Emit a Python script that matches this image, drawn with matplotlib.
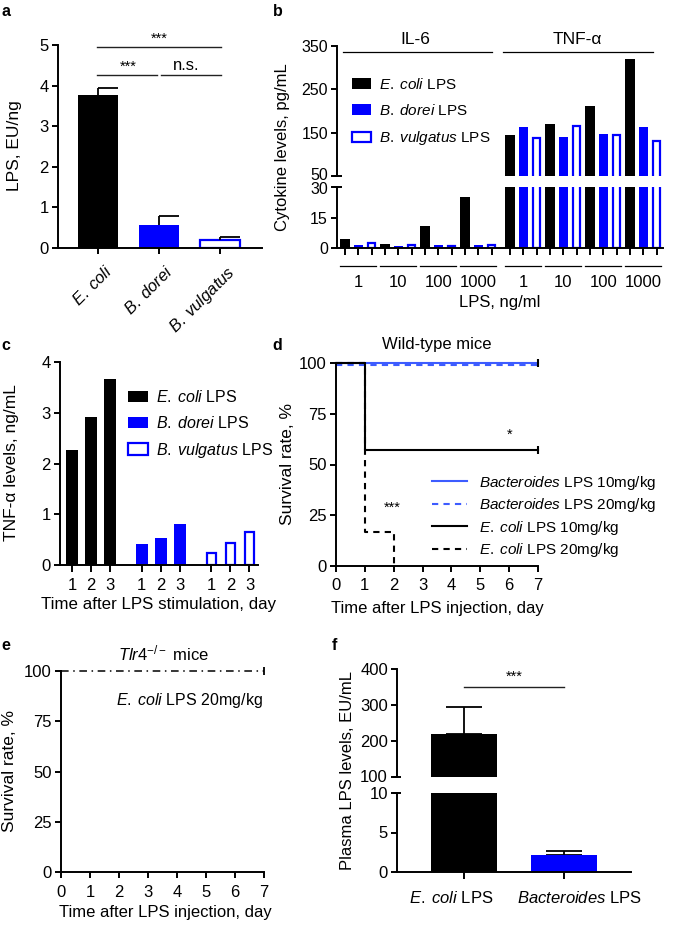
import numpy as np
import matplotlib
matplotlib.use("Agg")
import matplotlib.pyplot as plt
import matplotlib.transforms as mtransforms
from matplotlib.patches import Patch

plt.rcParams['font.family'] = ['Liberation Sans', 'DejaVu Sans']
plt.rcParams['mathtext.fontset'] = 'custom'
plt.rcParams['mathtext.rm'] = 'Liberation Sans'
plt.rcParams['mathtext.it'] = 'Liberation Sans:italic'
plt.rcParams['mathtext.bf'] = 'Liberation Sans:bold'

# ---------------- data ----------------
# panel a
a_labels = [r"$\it{E.\;coli}$", r"$\it{B.\;dorei}$", r"$\it{B.\;vulgatus}$"]
a_values = [3.76, 0.57, 0.20]
a_errors = [0.19, 0.23, 0.07]

# panel b
b_doses = ["1", "10", "100", "1000"]
il6_ecoli = [4.4, 2.1, 10.7, 24.9]
il6_dorei = [1.6, 0.8, 1.3, 1.3]
il6_vulg = [2.4, 1.6, 1.1, 1.3]
tnf_ecoli = [144, 170, 211, 319]
tnf_dorei = [162, 140, 148, 162]
tnf_vulg = [137, 165, 144, 131]

# panel c
c_days = ["1", "2", "3"]
c_ecoli = [2.27, 2.92, 3.67]
c_dorei = [0.41, 0.53, 0.81]
c_vulg = [0.23, 0.43, 0.66]

# panel d (Kaplan-Meier)
d_bact10_t = [0, 7]; d_bact10_s = [100, 100]
d_bact20_t = [0, 7]; d_bact20_s = [100, 100]
d_eco10_t = [0, 1, 7]; d_eco10_s = [100, 57.1, 57.1]
d_eco20_t = [0, 1, 2]; d_eco20_s = [100, 16.7, 0]

# panel e
e_t = [0, 7]; e_s = [100, 100]

# panel f
f_labels = [r"$\it{E.\;coli}$ LPS", r"$\it{Bacteroides}$ LPS"]
f_values = [220, 2.1]
f_errors = [74, 0.6]

BLACK = '#000000'
BLUE = '#0000ff'
LBLUE = '#3d5cff'

W, H = 685, 927
fig = plt.figure(figsize=(W / 100, H / 100), dpi=100)


def rect(l, t, r, b):
    return [l / W, 1 - b / H, (r - l) / W, (b - t) / H]


def ftext(x, y, s, **kw):
    kw.setdefault('ha', 'center')
    kw.setdefault('va', 'center')
    fig.text(x / W, 1 - y / H, s, **kw)


LW = 1.4


def style(ax, tick_fs=12):
    for s in ['top', 'right']:
        ax.spines[s].set_visible(False)
    for s in ['left', 'bottom']:
        ax.spines[s].set_linewidth(LW)
    ax.tick_params(direction='out', length=4.5, width=LW, labelsize=tick_fs, pad=2)


def brk(ax, y):
    ax.plot([-0.015, 0.015], [y, y], transform=ax.transAxes, color='k',
            lw=LW, clip_on=False, solid_capstyle='butt')


def shift_label(lbl, dx_px, dy_px):
    lbl.set_transform(lbl.get_transform() +
                      mtransforms.ScaledTranslation(dx_px / 100, dy_px / 100, fig.dpi_scale_trans))


LEG_LABELS = [r"$\it{E.\;coli}$ LPS", r"$\it{B.\;dorei}$ LPS",
              r"$\it{B.\;vulgatus}$ LPS"]

# ---------------- panel a ----------------
ax = fig.add_axes(rect(58, 45, 262, 248))
style(ax, 12)
xa = np.arange(3)
ax.bar(xa, a_values, width=0.66, color=[BLACK, BLUE, 'white'],
       edgecolor=[BLACK, BLUE, BLUE], linewidth=[0, 0, 1.6], zorder=2)
tops = np.array(a_values) + np.array(a_errors)
ax.vlines(xa, a_values, tops, color='k', lw=1.3)
ax.hlines(tops, xa, xa + 0.33, color='k', lw=1.3)
ax.set_xlim(-0.656, 2.69)
ax.set_ylim(0, 5)
ax.set_yticks([0, 1, 2, 3, 4, 5])
ax.set_xticks(xa)
ax.set_xticklabels(a_labels, rotation=45, ha='right', va='top',
                   rotation_mode='anchor', fontsize=12)
ax.tick_params(axis='x', pad=6)
fig.canvas.draw()
for lbl in ax.get_xticklabels():
    shift_label(lbl, 6, 0)
ax.plot([-0.02, 2.02], [4.95, 4.95], color='#222222', lw=1, clip_on=False)
ax.plot([-0.02, 0.97], [4.26, 4.26], color='#222222', lw=1, clip_on=False)
ax.plot([1.03, 2.02], [4.26, 4.26], color='#222222', lw=1, clip_on=False)
ax.text(1.0, 4.97, '***', ha='center', va='bottom', fontsize=10.5, clip_on=False)
ax.text(0.5, 4.28, '***', ha='center', va='bottom', fontsize=10.5)
ax.text(1.45, 4.32, 'n.s.', ha='center', va='bottom', fontsize=12)
ftext(15, 146, 'LPS, EU/ng', rotation=90, fontsize=12.5)
ftext(6, 12, 'a', fontsize=11.5, fontweight='bold')

# ---------------- panel b ----------------
axb1 = fig.add_axes(rect(337, 46, 663, 176))
axb2 = fig.add_axes(rect(337, 187, 663, 248))
idx = np.arange(24)
xb = idx + np.where(idx >= 12, 0.375, 0.0)
ecoli_b = il6_ecoli + tnf_ecoli
dorei_b = il6_dorei + tnf_dorei
vulg_b = il6_vulg + tnf_vulg
x_e = xb[0::3]; x_d = xb[1::3]; x_v = xb[2::3]
for a_ in (axb1, axb2):
    style(a_, 11.5)
    a_.bar(x_e, ecoli_b, width=0.68, color=BLACK, lw=0)
    a_.bar(x_d, dorei_b, width=0.68, color=BLUE, lw=0)
    a_.bar(x_v, vulg_b, width=0.52, color='white', edgecolor=BLUE, lw=1.6)
    a_.set_xlim(-0.6, 23.85)
axb1.set_ylim(50, 350)
axb1.set_yticks([50, 150, 250, 350])
axb1.spines['bottom'].set_visible(False)
axb1.tick_params(axis='x', bottom=False, labelbottom=False)
axb2.set_ylim(0, 30)
axb2.set_yticks([0, 15, 30])
axb2.spines['top'].set_visible(False)
axb2.set_xticks(xb)
axb2.tick_params(axis='x', labelbottom=False, length=5)
brk(axb1, 0)
brk(axb2, 1)
fig.canvas.draw()
shift_label(axb1.get_yticklabels()[0], 0, 2)
shift_label(axb2.get_yticklabels()[-1], 0, -1)
# group underlines and dose labels
for g in range(8):
    base = xb[g * 3]
    axb2.plot([base - 0.35, base + 2.35], [-0.295, -0.295],
              transform=axb2.get_xaxis_transform(), color='k', lw=0.9, clip_on=False)
    axb2.text(base + 1, -0.57, b_doses[g % 4], transform=axb2.get_xaxis_transform(),
              ha='center', va='center', fontsize=12)
# header lines
axb1.plot([-0.15, 11.0], [0.954, 0.954], transform=axb1.get_xaxis_transform(),
          color='k', lw=0.9, clip_on=False)
axb1.plot([11.85, 23.1], [0.954, 0.954], transform=axb1.get_xaxis_transform(),
          color='k', lw=0.9, clip_on=False)
axb1.text(5.25, 1.05, 'IL-6', transform=axb1.get_xaxis_transform(),
          ha='center', va='center', fontsize=12.5)
axb1.text(17.4, 1.05, 'TNF-α', transform=axb1.get_xaxis_transform(),
          ha='center', va='center', fontsize=12.5)
handles = [Patch(facecolor=BLACK, edgecolor=BLACK, lw=0),
           Patch(facecolor=BLUE, edgecolor=BLUE, lw=0),
           Patch(facecolor='white', edgecolor=BLUE, lw=1.6)]
axb1.legend(handles, LEG_LABELS, loc='upper left', bbox_to_anchor=(0.046, 0.765),
            frameon=False, fontsize=11, handlelength=1.25, handleheight=0.7,
            handletextpad=0.5, labelspacing=0.75, borderaxespad=0, borderpad=0)
ftext(283, 147, 'Cytokine levels, pg/mL', rotation=90, fontsize=12)
ftext(500, 302, 'LPS, ng/ml', fontsize=12)
ftext(278, 12, 'b', fontsize=11.5, fontweight='bold')

# ---------------- panel c ----------------
ax = fig.add_axes(rect(60, 362, 258, 565))
style(ax, 12)
xc = np.array([0, 1, 2, 3.67, 4.67, 5.67, 7.34, 8.34, 9.34])
ax.bar(xc[0:3], c_ecoli, width=0.65, color=BLACK, lw=0)
ax.bar(xc[3:6], c_dorei, width=0.65, color=BLUE, lw=0)
ax.bar(xc[6:9], c_vulg, width=0.52, color='white', edgecolor=BLUE, lw=1.6)
ax.set_xlim(-0.63, 9.79)
ax.set_ylim(0, 4)
ax.set_yticks([0, 1, 2, 3, 4])
ax.set_xticks(xc)
ax.set_xticklabels(c_days * 3, fontsize=12)
ax.tick_params(axis='x', length=5, pad=4)
ax.legend(handles, LEG_LABELS, loc='upper left', bbox_to_anchor=(0.343, 0.865),
          frameon=False, fontsize=11.5, handlelength=1.25, handleheight=0.7,
          handletextpad=0.5, labelspacing=0.6, borderaxespad=0, borderpad=0)
ftext(12, 463, 'TNF-α levels, ng/mL', rotation=90, fontsize=12.5)
ftext(159, 605, 'Time after LPS stimulation, day', fontsize=12.2)
ftext(6, 345, 'c', fontsize=11.5, fontweight='bold')

# ---------------- panel d ----------------
ax = fig.add_axes(rect(336, 363, 538, 566))
style(ax, 12)
dash_tr = mtransforms.offset_copy(ax.transData, fig=fig, x=0, y=-2, units='dots')
ax.step(d_bact10_t, d_bact10_s, where='post', color=LBLUE, lw=1.5, clip_on=False,
        label=r"$\it{Bacteroides}$ LPS 10mg/kg")
ax.step(d_bact20_t, d_bact20_s, where='post', color=LBLUE, lw=1.5, ls=(0, (3, 2.5)),
        clip_on=False, transform=dash_tr, label=r"$\it{Bacteroides}$ LPS 20mg/kg")
ax.step(d_eco10_t, d_eco10_s, where='post', color='k', lw=1.5, clip_on=False,
        label=r"$\it{E.\;coli}$ LPS 10mg/kg")
ax.step(d_eco20_t, d_eco20_s, where='post', color='k', lw=1.5, ls=(0, (3, 2.5)),
        clip_on=False, label=r"$\it{E.\;coli}$ LPS 20mg/kg")
ax.plot([d_bact10_t[-1]], [d_bact10_s[-1]], marker='|', ms=6, mew=1.5, color='k', clip_on=False)
ax.plot([d_eco10_t[-1]], [d_eco10_s[-1]], marker='|', ms=6, mew=1.5, color='k', clip_on=False)
ax.set_xlim(0, 7)
ax.set_ylim(0, 100)
ax.set_xticks(range(8))
ax.set_yticks([0, 25, 50, 75, 100])
ax.tick_params(axis='x', pad=4)
ax.text(6, 61, '*', ha='center', va='bottom', fontsize=10.5)
ax.text(1.95, 25, '***', ha='center', va='bottom', fontsize=10.5)
ax.legend(loc='upper left', bbox_to_anchor=(0.475, 0.455), frameon=False,
          fontsize=11, handlelength=2.3, handletextpad=0.8, labelspacing=0.3,
          borderaxespad=0, borderpad=0)
ftext(437, 345, 'Wild-type mice', fontsize=12)
ftext(287, 464, 'Survival rate, %', rotation=90, fontsize=12.5)
ftext(437, 608, 'Time after LPS injection, day', fontsize=12)
ftext(277, 345, 'd', fontsize=11.5, fontweight='bold')

# ---------------- panel e ----------------
ax = fig.add_axes(rect(61, 671, 264, 872))
style(ax, 12)
ax.plot(e_t, e_s, color='k', lw=1.1, ls=(0, (5, 3, 1, 3)), clip_on=False)
ax.plot([e_t[-1]], [e_s[-1]], marker='|', ms=6, mew=1.3, color='k', clip_on=False)
ax.set_xlim(0, 7)
ax.set_ylim(0, 100)
ax.set_xticks(range(8))
ax.set_yticks([0, 25, 50, 75, 100])
ax.tick_params(axis='x', pad=5)
ftext(263, 701, r"$\it{E.\;coli}$ LPS 20mg/kg", ha='right', fontsize=11.5)
ftext(163, 653, r"$\it{Tlr4}^{-/-}$ mice", fontsize=12)
ftext(10, 771, 'Survival rate, %', rotation=90, fontsize=12.5)
ftext(165, 913, 'Time after LPS injection, day', fontsize=12)
ftext(6, 645, 'e', fontsize=11.5, fontweight='bold')

# ---------------- panel f ----------------
axf1 = fig.add_axes(rect(397, 669, 631, 777))
axf2 = fig.add_axes(rect(397, 793, 631, 872))
xf = np.arange(2)
for a_ in (axf1, axf2):
    style(a_, 12)
    a_.bar(xf, f_values, width=0.66, color=[BLACK, BLUE], lw=0, zorder=2)
    a_.errorbar(xf, f_values, yerr=[[0, 0], f_errors], fmt='none', ecolor='k',
                elinewidth=1.3, capsize=13, capthick=1.3, zorder=1)
    a_.set_xlim(-0.67, 1.67)
axf1.set_ylim(100, 400)
axf1.set_yticks([100, 200, 300, 400])
axf1.spines['bottom'].set_visible(False)
axf1.tick_params(axis='x', bottom=False, labelbottom=False)
axf2.set_ylim(0, 10)
axf2.set_yticks([0, 5, 10])
axf2.spines['top'].set_visible(False)
axf2.set_xticks(xf)
axf2.set_xticklabels(f_labels, fontsize=12)
axf2.tick_params(axis='x', length=5, pad=8)
fig.canvas.draw()
shift_label(axf2.get_xticklabels()[0], -13, 0)
shift_label(axf2.get_xticklabels()[1], 16, 0)
shift_label(axf1.get_yticklabels()[0], 0, 1.5)
brk(axf1, 0)
brk(axf2, 1)
axf1.plot([0, 1], [350, 350], color='#222222', lw=1, clip_on=False)
axf1.text(0.5, 358, '***', ha='center', va='bottom', fontsize=10.5)
ftext(347, 770, 'Plasma LPS levels, EU/mL', rotation=90, fontsize=12)
ftext(334, 645, 'f', fontsize=11.5, fontweight='bold')

fig.savefig('out.png', dpi=100)
